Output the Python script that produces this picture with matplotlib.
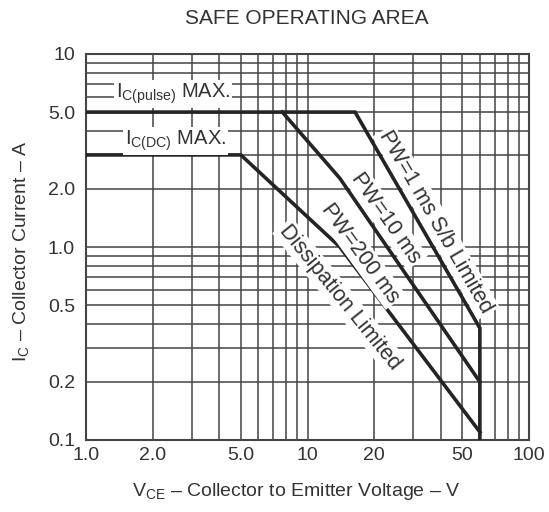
import matplotlib
matplotlib.use("Agg")
import matplotlib.pyplot as plt
from matplotlib.ticker import LogLocator, FixedLocator, NullFormatter

plt.rcParams['font.family'] = ['Liberation Sans', 'DejaVu Sans']
plt.rcParams['mathtext.fontset'] = 'custom'
plt.rcParams['mathtext.rm'] = 'Liberation Sans'

# Data
x_ticks = [1.0, 2.0, 5.0, 10, 20, 50, 100]
x_tick_labels = ["1.0", "2.0", "5.0", "10", "20", "50", "100"]
y_ticks = [0.1, 0.2, 0.5, 1.0, 2.0, 5.0, 10]
y_tick_labels = ["0.1", "0.2", "0.5", "1.0", "2.0", "5.0", "10"]

pw1ms_v = [1.0, 16.4, 60, 60]
pw1ms_i = [5.0, 5.0, 0.38, 0.1]
pw10ms_v = [7.7, 14, 60]
pw10ms_i = [5.0, 2.27, 0.2]
dc_v = [1.0, 5.0, 14, 60]
dc_i = [3.0, 3.0, 1.0, 0.11]

ink = '#242424'
txt = '#333333'

fig = plt.figure(figsize=(5.49, 5.12), dpi=100)
ax = fig.add_axes([86/549, 1-440/512, (529-86)/549, (440-54)/512])
ax.set_xscale('log')
ax.set_yscale('log')
ax.set_xlim(1, 100)
ax.set_ylim(0.1, 10)

ax.xaxis.set_major_locator(FixedLocator(x_ticks))
ax.set_xticklabels(x_tick_labels)
ax.yaxis.set_major_locator(FixedLocator(y_ticks))
ax.set_yticklabels(y_tick_labels)
ax.xaxis.set_minor_locator(LogLocator(base=10, subs=range(1, 10), numticks=20))
ax.yaxis.set_minor_locator(LogLocator(base=10, subs=range(1, 10), numticks=20))
ax.xaxis.set_minor_formatter(NullFormatter())
ax.yaxis.set_minor_formatter(NullFormatter())
ax.tick_params(which='both', length=0, labelsize=14, labelcolor=txt)
ax.tick_params(axis='x', pad=5)
ax.tick_params(axis='y', pad=8)
ax.grid(which='both', color='#444444', linewidth=1.1)
ax.set_axisbelow(True)
for s in ax.spines.values():
    s.set_color('#444444')
    s.set_linewidth(1.5)

ax.plot(pw1ms_v, pw1ms_i, color=ink, lw=2.6, solid_joinstyle='miter', zorder=3)
ax.plot(pw10ms_v, pw10ms_i, color=ink, lw=2.6, solid_joinstyle='miter', zorder=3)
ax.plot(dc_v, dc_i, color=ink, lw=2.6, solid_joinstyle='miter', zorder=3)

bb = dict(facecolor='white', edgecolor='none', pad=1.5)
ax.text(1.36, 6.2, r'I$_{\mathrm{C(pulse)}}$ MAX.', fontsize=14.5, color=txt,
        ha='left', va='center', bbox=bb, zorder=4)
ax.text(1.5, 3.55, r'I$_{\mathrm{C(DC)}}$ MAX.', fontsize=14.5, color=txt,
        ha='left', va='center', bbox=bb, zorder=4)

def px2data(px, py):
    lx = (px - 86) / 221.5
    ly = 1 - (py - 54) / 193.0
    return 10 ** lx, 10 ** ly

for label, (px, py), rot in [
    ("PW=1 ms S/b Limited", (436, 222), -60),
    ("PW=10 ms", (386, 218), -55),
    ("PW=200 ms", (360, 253), -54),
    ("Dissipation Limited", (340, 297), -51),
]:
    xd, yd = px2data(px, py)
    ax.text(xd, yd, label, fontsize=15.5, color=txt, rotation=rot,
            rotation_mode='anchor', ha='center', va='center', bbox=bb, zorder=4)

fig.text(307/549, 1-19/512, "SAFE OPERATING AREA", ha='center', va='center',
         fontsize=15, color=txt)
fig.text(296/549, 1-491/512, r'V$_{\mathrm{CE}}$ – Collector to Emitter Voltage – V',
         ha='center', va='center', fontsize=14, color=txt)
fig.text(22/549, 1-251/512, r'I$_{\mathrm{C}}$ – Collector Current – A',
         ha='center', va='center', rotation=90, fontsize=14, color=txt)

fig.savefig('out.png', dpi=100)
